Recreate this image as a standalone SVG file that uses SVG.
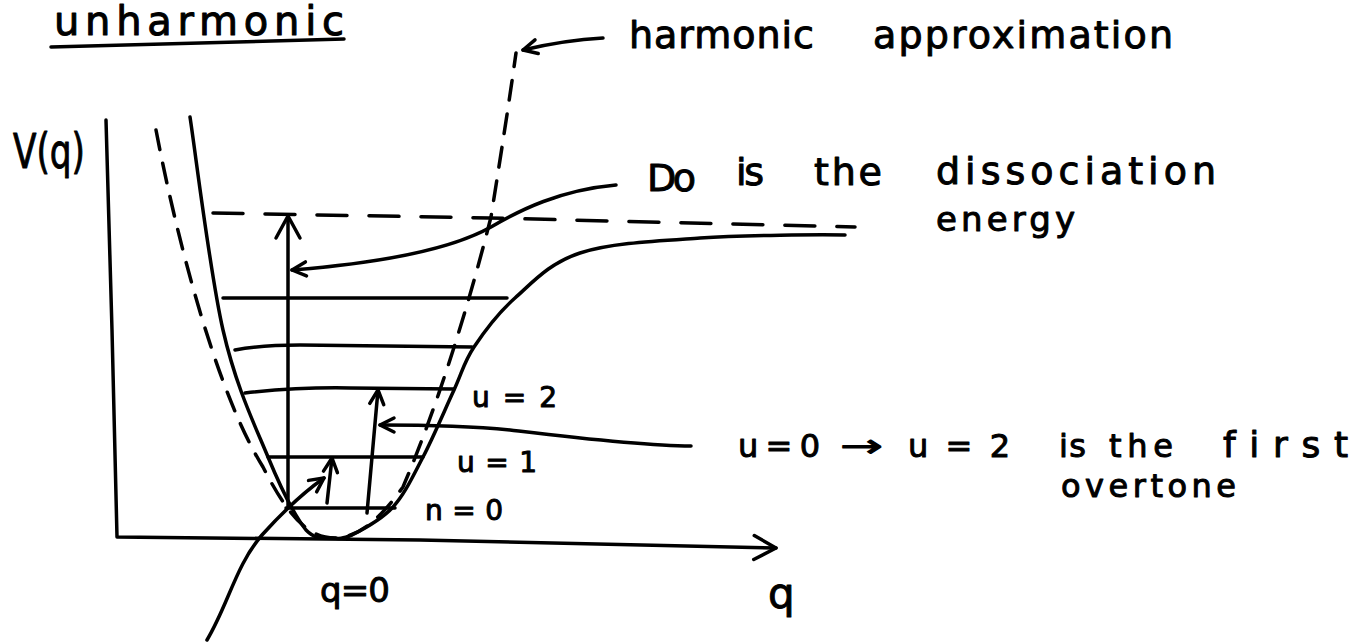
<svg xmlns="http://www.w3.org/2000/svg" width="1361" height="642" viewBox="0 0 1361 642">
<style>
.s{fill:none;stroke:#000;stroke-width:3.5;stroke-linecap:round;stroke-linejoin:round}
.d{fill:none;stroke:#000;stroke-width:3.5;stroke-linecap:round;stroke-dasharray:20 14}
.dl{fill:none;stroke:#000;stroke-width:3.5;stroke-linecap:round;stroke-dasharray:30 22}
.t{font-family:"DejaVu Sans",sans-serif;fill:#000;stroke:#000;stroke-width:1;stroke-linejoin:round;font-variant-ligatures:none}
.ab{marker-end:url(#big)}
.as{marker-end:url(#small)}
</style>
<defs>
<marker id="big" viewBox="0 0 30 30" refX="26" refY="15" markerWidth="30" markerHeight="30" markerUnits="userSpaceOnUse" orient="auto">
<path d="M4,3 L26,15 L4,27" fill="none" stroke="#000" stroke-width="3.5" stroke-linecap="round" stroke-linejoin="round"/>
</marker>
<marker id="small" viewBox="0 0 20 20" refX="17" refY="10" markerWidth="20" markerHeight="20" markerUnits="userSpaceOnUse" orient="auto">
<path d="M3,3 L17,10 L3,17" fill="none" stroke="#000" stroke-width="3.5" stroke-linecap="round" stroke-linejoin="round"/>
</marker>
</defs>
<rect width="1361" height="642" fill="#fff"/>

<g id="title">
<text class="t" x="54" y="35" font-size="40" textLength="290" lengthAdjust="spacing">unharmonic</text>
<path class="s" d="M51,47 L344,39" stroke-width="4"/>
</g>

<g id="axes">
<path class="s ab" d="M106,120 L112,330 L117,537 L420,540 L776,548"/>
<text class="t" x="13" y="168" font-size="48" textLength="72" lengthAdjust="spacingAndGlyphs">V(q)</text>
<text class="t" x="768" y="608" font-size="42">q</text>
<text class="t" x="320" y="602" font-size="34" textLength="70" lengthAdjust="spacing">q=0</text>
</g>

<g id="harmonic-curve">
<path class="d" d="M156,130 C175,230 215,390 263,467 C290,520 310,538 335,538 C365,538 390,505 403,487 C440,400 470,300 491,217 C500,160 508,110 516,53"/>
</g>

<g id="anharmonic-curve">
<path class="s" d="M190,117 C195.5,152.5 210,273.3 223,330 C236,386.7 254.2,423.7 268,457 C281.8,490.3 295.3,516.5 306,530 C316.7,541 324.3,537.2 332,538 C339.7,538.8 341.8,539 352,535 C362.2,529.8 381.2,520 393,507 C404.8,494 412.8,476.5 423,457 C433.2,437.5 445.5,408.3 454,390 C462.5,371.7 463.8,362.3 474,347 C484.2,331.7 497.3,313.7 515,298 C532.7,282.3 549.2,263 580,253 C610.8,243 655.8,241 700,238 C744.2,235 820.8,234.5 845,235"/>
</g>

<g id="dissociation-line">
<path class="dl" d="M213,213 L490,218 L855,227"/>
</g>

<g id="levels">
<path class="s" d="M223,298 L507,298"/>
<path class="s" d="M235,350 Q260,345 300,345 L472,347"/>
<path class="s" d="M245,393 Q300,387 350,388 L454,389"/>
<path class="s" d="M268,457 L423,457"/>
<path class="s" d="M286,508 L395,508"/>
</g>

<g id="level-labels">
<text class="t" x="472" y="407" font-size="28" textLength="85" lengthAdjust="spacing">u = 2</text>
<text class="t" x="457" y="472" font-size="28" textLength="80" lengthAdjust="spacing">u = 1</text>
<text class="t" x="425" y="520" font-size="28" textLength="78" lengthAdjust="spacing">n = 0</text>
</g>

<g id="label-harmonic">
<text class="t" y="48" font-size="38"><tspan x="629" textLength="185" lengthAdjust="spacing">harmonic</tspan> <tspan x="873" textLength="300" lengthAdjust="spacing">approximation</tspan></text>
</g>

<g id="label-dissociation">
<text class="t" font-size="38"><tspan x="647" y="191" textLength="49" lengthAdjust="spacing">Do</tspan> <tspan x="736" y="185" textLength="28" lengthAdjust="spacing">is</tspan> <tspan x="814" y="185" textLength="68" lengthAdjust="spacing">the</tspan> <tspan x="936" y="184" textLength="280" lengthAdjust="spacing">dissociation</tspan></text>
<text class="t" x="936" y="231" font-size="34" textLength="139" lengthAdjust="spacing">energy</text>
</g>

<g id="label-overtone">
<text class="t" y="457" font-size="32"><tspan x="738" textLength="82" lengthAdjust="spacing">u=0</tspan> <tspan x="840" textLength="43" lengthAdjust="spacingAndGlyphs">→</tspan> <tspan x="908" textLength="102" lengthAdjust="spacing">u = 2</tspan> <tspan x="1059" textLength="27" lengthAdjust="spacing">is</tspan> <tspan x="1109" textLength="64" lengthAdjust="spacing">the</tspan> <tspan x="1223" font-size="36" textLength="125" lengthAdjust="spacing">first</tspan></text>
<text class="t" x="1061" y="497" font-size="32" textLength="175" lengthAdjust="spacing">overtone</text>
</g>

<g id="connectors">
<path class="s as" d="M603,38 Q565,40 523,50"/>
<path class="s as" d="M616,185 C560,190 520,210 491,227 C450,250 380,263 292,270"/>
<path class="s as" d="M691,446 C640,446 560,436 510,430 C470,426 430,425 380,425"/>
<path class="s as" d="M207,640 C228,605 236,565 262,535 C280,515 300,495 324,478"/>
<path class="s ab" d="M288,507 L288,216"/>
<path class="s as" d="M327,503 L332,458"/>
<path class="s as" d="M367,513 L378,390"/>
</g>
</svg>
